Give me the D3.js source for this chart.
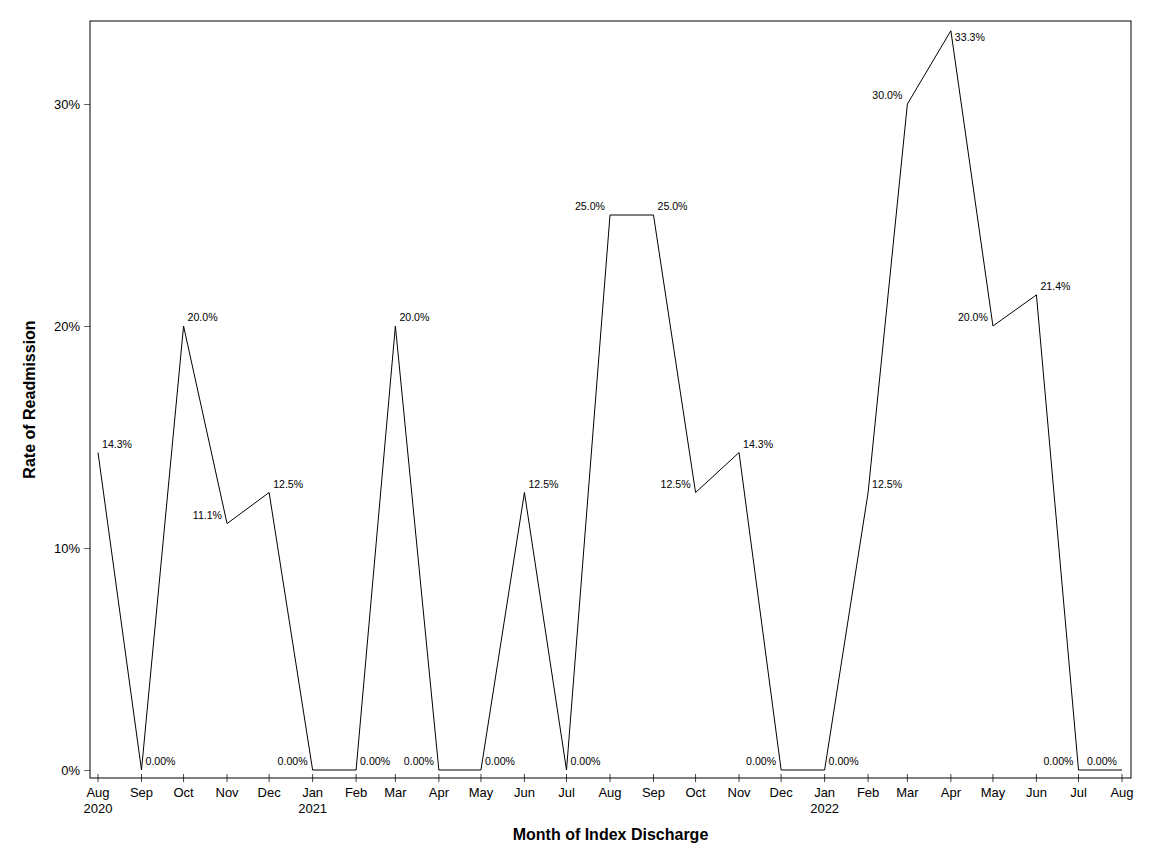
<!DOCTYPE html>
<html>
<head>
<meta charset="utf-8">
<script src="https://cdn.jsdelivr.net/npm/d3@7"></script>
<style>
  body { margin: 0; background: #fff; }
  text { font-family: "Liberation Sans", Arial, sans-serif; }
</style>
</head>
<body>
<svg class="chart"></svg>
<script>
// monthly readmission rates, Aug 2020 - Aug 2022
var months = ["2020-08","2020-09","2020-10","2020-11","2020-12","2021-01","2021-02","2021-03",
  "2021-04","2021-05","2021-06","2021-07","2021-08","2021-09","2021-10","2021-11","2021-12",
  "2022-01","2022-02","2022-03","2022-04","2022-05","2022-06","2022-07","2022-08"];
var rates = [0.143, 0, 0.200, 0.111, 0.125, 0, 0, 0.200, 0, 0, 0.125, 0, 0.250, 0.250,
  0.125, 0.143, 0, 0, 0.125, 0.300, 0.333, 0.200, 0.214, 0, 0];
var labelSide = ["R","R","R","L","R","L","R","R","L","R","R","R","L","R",
  "L","R","L","R","R","L","B","L","R","L","L"];
var yTicks = [0, 0.1, 0.2, 0.3];

var parse = d3.timeParse("%Y-%m");
var data = months.map(function(m, i) {
  return { date: parse(m), rate: rates[i], side: labelSide[i] };
});

var margin = {top: 21, right: 21, bottom: 86, left: 90},
    width = 1152 - margin.left - margin.right,
    height = 864 - margin.top - margin.bottom;

var svg = d3.select(".chart")
    .attr("width", 1152)
    .attr("height", 864);

var chart = svg.append("g")
    .attr("transform", "translate(" + margin.left + "," + margin.top + ")");

var x = d3.scaleTime()
    .domain(d3.extent(data, function(d) { return d.date; }))
    .range([8, width - 9]);

var y = d3.scaleLinear()
    .domain([0, 0.3])
    .range([height - 8, 83]);

// y axis ticks + labels
var yAxis = chart.append("g")
    .call(d3.axisLeft(y).tickValues(yTicks).tickFormat(d3.format(".0%")).tickSize(6).tickPadding(4));
yAxis.select(".domain").remove();
yAxis.selectAll("line").attr("stroke", "#666");
yAxis.selectAll("text").attr("fill", "#000").style("font-size", "13px")
    .style("font-family", "Liberation Sans, Arial, sans-serif");

// x axis ticks (straddle the frame) and two-line labels
var xt = chart.append("g").selectAll(".xt")
    .data(data)
    .enter().append("g")
    .attr("transform", function(d) { return "translate(" + x(d.date) + "," + height + ")"; });
xt.append("line")
    .attr("y1", -4).attr("y2", 4)
    .attr("stroke", "#444");
xt.append("text")
    .attr("y", 19)
    .attr("text-anchor", "middle")
    .style("font-size", "13px")
    .text(function(d) { return d3.timeFormat("%b")(d.date); });
xt.append("text")
    .attr("y", 35)
    .attr("text-anchor", "middle")
    .style("font-size", "13px")
    .text(function(d, i) {
      return (i === 0 || d.date.getMonth() === 0) ? d3.timeFormat("%Y")(d.date) : "";
    });

// frame
chart.append("rect")
    .attr("width", width).attr("height", height)
    .attr("fill", "none").attr("stroke", "#000").attr("stroke-width", 1);

// series
var line = d3.line()
    .x(function(d) { return x(d.date); })
    .y(function(d) { return y(d.rate); });

chart.append("path")
    .datum(data)
    .attr("fill", "none")
    .attr("stroke", "#000")
    .attr("stroke-width", 1)
    .attr("d", line);

var fmt = function(v) { return v === 0 ? "0.00%" : d3.format(".1%")(v); };

chart.selectAll(".lbl")
    .data(data)
    .enter().append("text")
    .attr("class", "lbl")
    .attr("x", function(d) { return x(d.date) + (d.side === "L" ? -5 : 4); })
    .attr("y", function(d) { return y(d.rate) + (d.side === "B" ? 10 : -5); })
    .attr("text-anchor", function(d) { return d.side === "L" ? "end" : "start"; })
    .style("font-size", "10.6px")
    .text(function(d) { return fmt(d.rate); });

// axis titles
svg.append("text")
    .attr("x", margin.left + width / 2)
    .attr("y", 840)
    .attr("text-anchor", "middle")
    .style("font-size", "16px")
    .style("font-weight", "bold")
    .text("Month of Index Discharge");

svg.append("text")
    .attr("transform", "translate(35," + (margin.top + height / 2) + ") rotate(-90)")
    .attr("text-anchor", "middle")
    .style("font-size", "16px")
    .style("font-weight", "bold")
    .text("Rate of Readmission");
</script>
</body>
</html>
